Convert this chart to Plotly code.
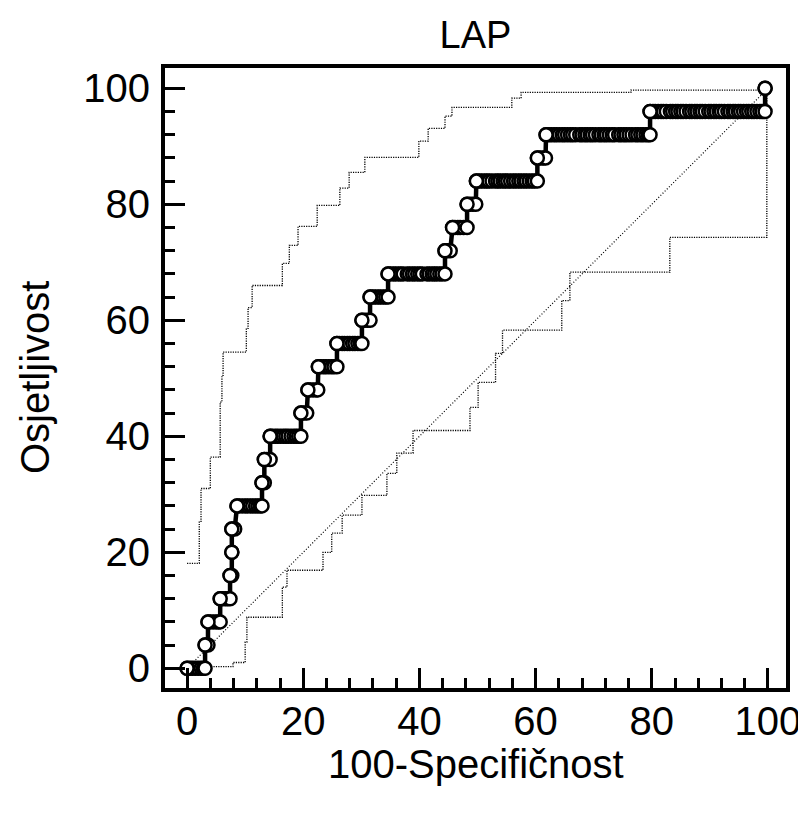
import plotly.graph_objects as go

# ROC curve: sensitivity levels and the 100-specificity values observed at each level
sens_levels = [0, 4, 8, 12, 16, 20, 24, 28, 32, 36, 40, 44, 48, 52, 56, 60, 64, 68, 72, 76, 80, 84, 88, 92, 96, 100]
fpr_runs = [
    [0.0, 0.5, 0.9, 1.4, 1.9, 2.4, 2.8, 3.1],
    [3.1, 3.6],
    [3.6, 4.0, 4.5, 5.0, 5.4, 5.7],
    [5.7, 6.1, 6.6, 7.0, 7.4],
    [7.4, 7.7],
    [7.7],
    [7.7, 8.2],
    [8.6, 9.0, 9.5, 10.0, 10.4, 10.9, 11.3, 11.8, 12.2, 12.6, 12.9],
    [12.9, 13.3],
    [13.3, 13.7, 14.3],
    [14.3, 14.7, 15.2, 15.6, 16.1, 16.6, 17.0, 17.4, 17.9, 18.4, 18.8, 19.2, 19.6],
    [19.6, 20.1, 20.6],
    [20.8, 21.2, 21.7, 22.2, 22.5],
    [22.6, 23.0, 23.5, 23.9, 24.4, 24.9, 25.3, 25.8],
    [25.8, 26.2, 26.7, 27.1, 27.6, 28.0, 28.5, 28.9, 29.4, 29.8, 30.1],
    [30.1, 30.6, 31.1, 31.5],
    [31.5, 32.0, 32.4, 32.9, 33.3, 33.8, 34.2, 34.6],
    [34.6, 35.0, 35.5, 35.9, 36.4, 36.8, 37.2, 37.9, 38.3, 38.8, 39.2, 39.7, 40.1, 40.5, 41.3, 41.7,
     42.2, 42.6, 43.0, 43.5, 43.9, 44.4],
    [44.4, 44.8, 45.3],
    [45.7, 46.1, 46.6, 47.0, 47.6, 48.2],
    [48.2, 48.7, 49.2, 49.7],
    [49.8, 50.3, 50.7, 51.2, 51.6, 52.0, 52.5, 53.1, 53.5, 53.9, 54.4, 54.8, 55.2, 55.7, 56.2, 56.6,
     57.1, 57.5, 58.0, 58.4, 58.9, 59.4, 59.8, 60.3],
    [60.3, 60.8, 61.3, 61.7],
    [61.8, 62.3, 62.7, 63.2, 63.6, 64.1, 64.6, 65.0, 65.5, 66.0, 66.4, 66.9, 67.6, 68.0, 68.5, 68.9,
     69.4, 69.8, 70.3, 70.9, 71.3, 71.8, 72.2, 72.7, 73.2, 73.6, 74.3, 74.7, 75.2, 75.6, 76.1, 76.6,
     77.2, 77.6, 78.1, 78.5, 79.0, 79.4, 79.7],
    [79.7, 80.2, 80.6, 81.1, 81.6, 82.0, 82.5, 83.2, 83.6, 84.1, 84.5, 85.0, 85.4, 85.9, 86.5, 86.9,
     87.4, 87.8, 88.3, 88.7, 89.2, 89.8, 90.2, 90.7, 91.1, 91.6, 92.0, 92.5, 93.1, 93.5, 94.0, 94.4,
     94.9, 95.3, 95.8, 96.3, 96.7, 97.2, 97.6, 98.1, 98.6, 99.0, 99.5],
    [99.5],
]

# 95% confidence bounds (step corners)
upper_x = [0, 2.1, 2.4, 4.0, 5.7, 6.0, 6.2, 10.2, 10.5, 11.2, 16.4, 17.6, 19.1, 22.4, 26.3, 27.9,
           30.6, 39.9, 41.5, 44.4, 45.6, 55.9, 57.5, 76.4, 99.5]
upper_y = [18.1, 25.2, 31.0, 36.4, 45.9, 50.5, 54.5, 58.6, 62.2, 66.0, 69.8, 72.9, 76.2, 79.8, 82.8,
           85.5, 88.1, 90.9, 93.1, 95.2, 96.7, 98.3, 99.3, 99.7, 100]
lower_x = [0, 7.9, 10.0, 10.3, 16.4, 17.2, 23.4, 24.9, 26.7, 30.1, 34.4, 36.1, 38.9, 48.7, 50.1,
           53.1, 54.3, 64.5, 65.9, 83.1, 99.8]
lower_y = [0.3, 1.0, 4.5, 8.8, 14.0, 16.9, 20.0, 23.3, 26.4, 29.8, 33.6, 37.1, 41.0, 45.0, 49.3,
           54.3, 58.3, 63.4, 68.3, 74.3, 99.6]

diag_x = [0, 100]
diag_y = [0, 100]

x_ticks = [0, 20, 40, 60, 80, 100]
y_ticks = [0, 20, 40, 60, 80, 100]

roc_x = [x for xs in fpr_runs for x in xs]
roc_y = [lvl for lvl, xs in zip(sens_levels, fpr_runs) for _ in xs]
start_x = [xs[0] for xs in fpr_runs]
start_y = list(sens_levels)

FONT = "Liberation Sans, Arial, Helvetica, sans-serif"
# page body has an 8px margin, so the figure is sized/offset to land on the reference pixels
OFF = 8
W, H = 806 - OFF, 813 - OFF
L, R, T, B = 165 - OFF, W - (786 - OFF), 68 - OFF, H - (688 - OFF)
PW, PH = W - L - R, H - T - B

fig = go.Figure()

fig.add_trace(go.Scatter(x=diag_x, y=diag_y, mode="lines",
                         line=dict(color="black", width=1.2, dash="1px,2px"), hoverinfo="skip"))
fig.add_trace(go.Scatter(x=upper_x, y=upper_y, mode="lines", line_shape="hv",
                         line=dict(color="black", width=1.3, dash="1.2px,1.2px"), hoverinfo="skip"))
fig.add_trace(go.Scatter(x=lower_x, y=lower_y, mode="lines", line_shape="hv",
                         line=dict(color="black", width=1.3, dash="1.2px,1.2px"), hoverinfo="skip"))
fig.add_trace(go.Scatter(x=roc_x, y=roc_y, mode="lines+markers",
                         line=dict(color="black", width=4.5),
                         marker=dict(symbol="circle", size=13, color="white",
                                     line=dict(color="black", width=2.5))))
fig.add_trace(go.Scatter(x=start_x, y=start_y, mode="markers",
                         marker=dict(symbol="circle", size=13, color="white",
                                     line=dict(color="black", width=2.5))))

axis_common = dict(
    showline=True, linewidth=4, linecolor="black", mirror=True,
    showgrid=False, zeroline=False, automargin=False,
    ticks="inside", ticklen=20, tickwidth=3, tickcolor="black",
    tickfont=dict(family=FONT, size=40, color="black"),
    minor=dict(ticks="inside", ticklen=10, tickwidth=3, tickcolor="black", dtick=4, showgrid=False),
)

fig.update_layout(
    width=W, height=H,
    margin=dict(l=L, r=R, t=T, b=B),
    paper_bgcolor="white", plot_bgcolor="white",
    showlegend=False,
    title=dict(text="LAP", font=dict(family=FONT, size=38, color="black"),
               x=0.5, xref="paper", xanchor="center", y=1 - (35 - OFF) / H, yref="container",
               yanchor="middle"),
    xaxis=dict(range=[-3.8, 103.1], tickvals=x_ticks, ticktext=[str(v) for v in x_ticks],
               ticklabelstandoff=-5, **axis_common),
    yaxis=dict(range=[-3.4, 103.5], tickvals=y_ticks, ticktext=[str(v) for v in y_ticks],
               ticklabelstandoff=3, **axis_common),
    annotations=[
        dict(text="100-Specifičnost", xref="paper", yref="paper", x=0.5,
             y=-((764 - OFF) - (H - B)) / PH, xanchor="center", yanchor="middle", showarrow=False,
             font=dict(family=FONT, size=40, color="black")),
        dict(text="Osjetljivost", xref="paper", yref="paper", x=-(L - (35 - OFF)) / PW,
             y=0.5, xanchor="center", yanchor="middle", textangle=-90, showarrow=False,
             font=dict(family=FONT, size=40, color="black")),
    ],
)

fig.write_html("out.html")
